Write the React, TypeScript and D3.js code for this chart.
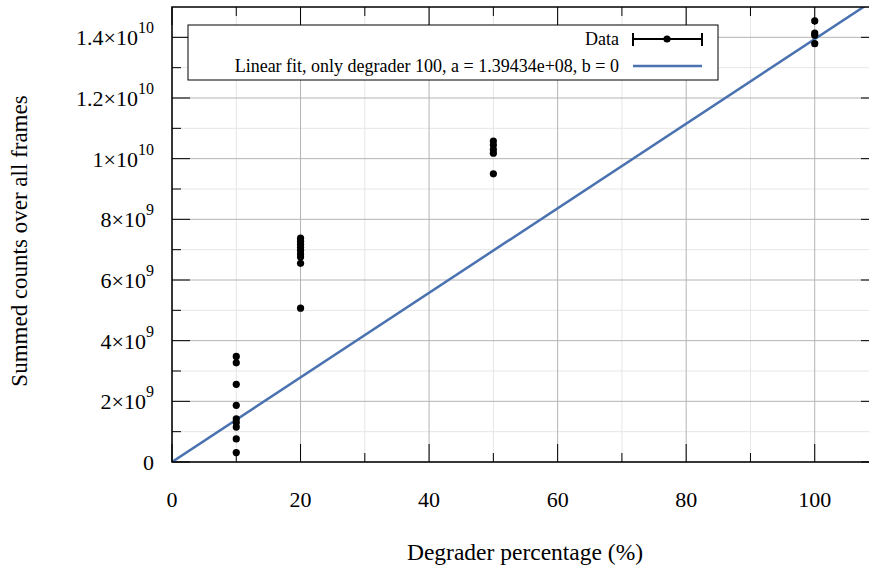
import React from "react";
import * as d3 from "d3";

const x10 = [3.48e9, 3.27e9, 2.56e9, 1.87e9, 1.42e9, 1.3e9, 1.15e9, 0.76e9, 0.31e9];
const x20 = [7.38e9, 7.28e9, 7.18e9, 7.08e9, 6.98e9, 6.86e9, 6.76e9, 6.55e9, 5.07e9];
const x50 = [10.58e9, 10.45e9, 10.3e9, 10.18e9, 9.5e9];
const x100 = [14.54e9, 14.14e9, 14.07e9, 13.79e9];
const degraders = [10, 20, 50, 100];
const fitA = 1.39434e8;
const xMajorTicks = [0, 20, 40, 60, 80, 100];
const xMinorTicks = [10, 30, 50, 70, 90, 110];
const yMajorTicks = [0, 2e9, 4e9, 6e9, 8e9, 1e10, 1.2e10, 1.4e10];
const yMajorLabels = ["0", "2×10|9", "4×10|9", "6×10|9", "8×10|9", "1×10|10", "1.2×10|10", "1.4×10|10"];
const yMinorTicks = [1e9, 3e9, 5e9, 7e9, 9e9, 1.1e10, 1.3e10];
const legendLabels = ["Data", "Linear fit, only degrader 100, a = 1.39434e+08, b = 0"];

const W = 869, H = 570;
const L = 172, T = 7, R = 879, B = 462;
const FONT = '"Liberation Serif", Tinos, "Noto Serif", "DejaVu Serif", "Times New Roman", serif';

export default function App() {
  const x = d3.scaleLinear().domain([0, 110]).range([L, R]);
  const y = d3.scaleLinear().domain([0, 1.5e10]).range([B, T]);
  const series = [x10, x20, x50, x100];
  const points = series.flatMap((vals, i) => vals.map((v) => ({ x: degraders[i], y: v })));
  const fitLine = d3.line<number>().x((d) => x(d)).y((d) => y(fitA * d));
  const majorLen = 18, minorLen = 9;
  const ts = { fontFamily: FONT };
  return (
    <svg width={W} height={H} style={{ position: "absolute", left: 0, top: 0, background: "#fff", fontFamily: FONT }}>
      <defs>
        <clipPath id="plotclip">
          <rect x={L} y={T} width={R - L} height={B - T} />
        </clipPath>
      </defs>
      {xMinorTicks.map((t) => (
        <line key={"xm" + t} x1={x(t)} x2={x(t)} y1={T} y2={B} stroke="#e6e6e6" strokeWidth={1} />
      ))}
      {yMinorTicks.map((t) => (
        <line key={"ym" + t} x1={L} x2={R} y1={y(t)} y2={y(t)} stroke="#e6e6e6" strokeWidth={1} />
      ))}
      {xMajorTicks.map((t) => (
        <line key={"xg" + t} x1={x(t)} x2={x(t)} y1={T} y2={B} stroke="#b4b4b4" strokeWidth={1} />
      ))}
      {yMajorTicks.map((t) => (
        <line key={"yg" + t} x1={L} x2={R} y1={y(t)} y2={y(t)} stroke="#b4b4b4" strokeWidth={1} />
      ))}
      {xMajorTicks.map((t) => (
        <g key={"xt" + t}>
          <line x1={x(t)} x2={x(t)} y1={B} y2={B - majorLen} stroke="#000" />
          <line x1={x(t)} x2={x(t)} y1={T} y2={T + majorLen} stroke="#000" />
        </g>
      ))}
      {xMinorTicks.map((t) => (
        <g key={"xtm" + t}>
          <line x1={x(t)} x2={x(t)} y1={B} y2={B - minorLen} stroke="#000" />
          <line x1={x(t)} x2={x(t)} y1={T} y2={T + minorLen} stroke="#000" />
        </g>
      ))}
      {yMajorTicks.map((t) => (
        <g key={"yt" + t}>
          <line x1={L} x2={L + majorLen} y1={y(t)} y2={y(t)} stroke="#000" />
          <line x1={R} x2={R - majorLen} y1={y(t)} y2={y(t)} stroke="#000" />
        </g>
      ))}
      {yMinorTicks.map((t) => (
        <g key={"ytm" + t}>
          <line x1={L} x2={L + minorLen} y1={y(t)} y2={y(t)} stroke="#000" />
          <line x1={R} x2={R - minorLen} y1={y(t)} y2={y(t)} stroke="#000" />
        </g>
      ))}
      <path d={fitLine([0, 110]) || ""} fill="none" stroke="#4a72b0" strokeWidth={2.5} clipPath="url(#plotclip)" />
      {points.map((p, i) => (
        <circle key={"p" + i} cx={x(p.x)} cy={y(p.y)} r={3.6} fill="#000" />
      ))}
      <rect x={L} y={T} width={R - L} height={B - T} fill="none" stroke="#000" strokeWidth={1.5} />
      {xMajorTicks.map((t) => (
        <text key={"xl" + t} style={ts} x={x(t)} y={507} textAnchor="middle" fontSize={22} fill="#000">{t}</text>
      ))}
      {yMajorTicks.map((t, i) => {
        const [base, exp] = yMajorLabels[i].split("|");
        return (
          <text key={"yl" + t} style={ts} x={154} y={y(t) + 8} textAnchor="end" fontSize={22} fill="#000">
            {base}
            {exp && <tspan fontSize={16} dy={-12}>{exp}</tspan>}
          </text>
        );
      })}
      <text style={ts} x={525} y={560} textAnchor="middle" fontSize={23.5} fill="#000">Degrader percentage (%)</text>
      <text style={ts} transform={`translate(27,241) rotate(-90)`} textAnchor="middle" fontSize={23} fill="#000">
        Summed counts over all frames
      </text>
      <rect x={188} y={25} width={530} height={55} fill="#fff" stroke="#000" strokeWidth={1} />
      <text style={ts} x={619} y={45} textAnchor="end" fontSize={18} fill="#000">{legendLabels[0]}</text>
      <line x1={633} x2={702} y1={39} y2={39} stroke="#000" strokeWidth={2} />
      <line x1={633} x2={633} y1={33} y2={46} stroke="#000" strokeWidth={2} />
      <line x1={702} x2={702} y1={33} y2={46} stroke="#000" strokeWidth={2} />
      <circle cx={667} cy={39} r={3.6} fill="#000" />
      <text style={ts} x={619} y={72} textAnchor="end" fontSize={18} fill="#000">{legendLabels[1]}</text>
      <line x1={633} x2={702} y1={66} y2={66} stroke="#4a72b0" strokeWidth={2.5} />
    </svg>
  );
}
